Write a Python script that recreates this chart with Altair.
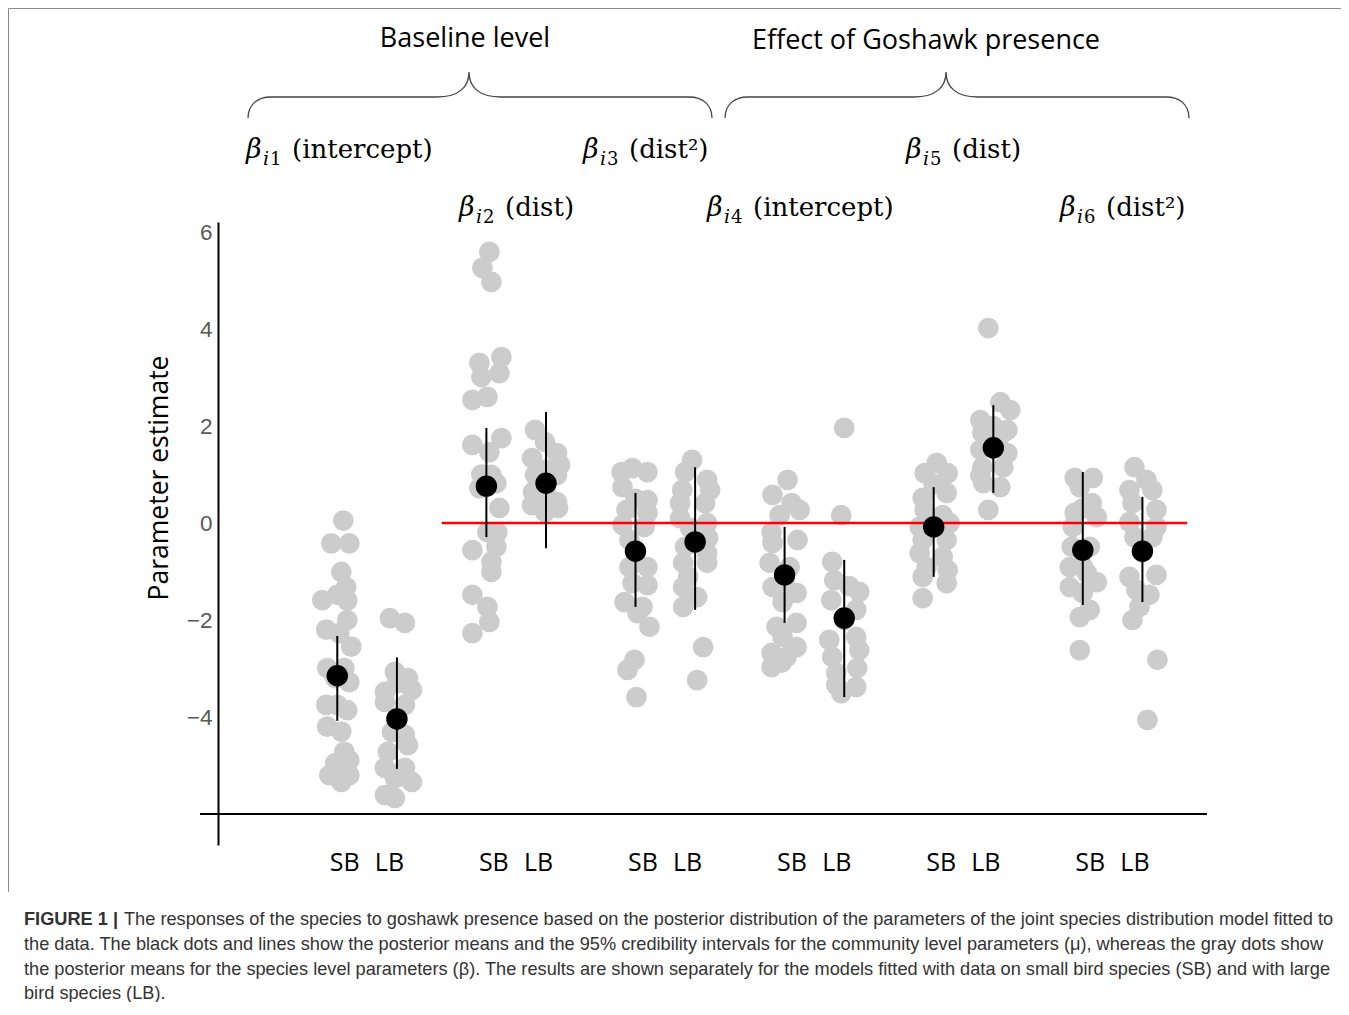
import altair as alt
import pandas as pd

# ---------------- data ----------------
param_ids = [1, 2, 3, 4, 5, 6]
group_names = ["SB", "LB"]
group_shift = [-0.2, 0.2]          # SB left, LB right within each parameter

# community level posterior means and 95% credibility intervals
sb_mean = [-3.15, 0.76, -0.58, -1.07, -0.08, -0.56]
sb_lo = [-4.08, -0.29, -1.73, -2.06, -1.11, -1.69]
sb_hi = [-2.33, 1.96, 0.62, -0.08, 0.74, 1.05]
lb_mean = [-4.04, 0.82, -0.39, -1.96, 1.55, -0.58]
lb_lo = [-5.07, -0.52, -1.79, -3.59, 0.62, -1.63]
lb_hi = [-2.77, 2.29, 1.15, -0.76, 2.43, 0.54]

# species level posterior means (gray dots): (value, horizontal jitter)
sb1 = [(0.05, 6), (-0.42, -6), (-0.42, 12), (-1.01, 4), (-1.32, 9), (-1.59, -15), (-1.48, 0),
       (-1.60, 10), (-2.00, 10), (-2.20, -11), (-2.27, 2), (-2.55, 14), (-2.99, -10), (-2.99, 7),
       (-3.28, 12), (-3.20, -2), (-3.75, -11), (-3.86, 10), (-3.75, 0), (-4.20, -10), (-4.30, 4),
       (-4.72, 7), (-4.89, 12), (-5.20, -8), (-5.34, 4), (-5.20, 12), (-4.95, -2)]
lb1 = [(-1.96, -7), (-2.06, 8), (-3.07, -2), (-3.20, 11), (-3.48, -12), (-3.44, 15), (-3.69, -12),
       (-3.75, 8), (-4.31, -5), (-4.37, 8), (-4.58, 11), (-4.72, -9), (-5.05, -12), (-5.05, 8),
       (-5.34, 15), (-5.61, -12), (-5.67, -2), (-5.26, -2), (-3.30, 0), (-4.00, 0)]
sb2 = [(5.59, 3), (5.26, -4), (4.97, 5), (3.30, -7), (3.42, 15), (3.09, 13), (3.01, -5), (2.54, -14),
       (2.60, 1), (1.61, -14), (1.75, 15), (1.46, 3), (0.99, 5), (0.72, -7), (0.82, 10), (0.31, 13),
       (-0.19, 1), (-0.19, 11), (-0.56, -14), (-0.49, 10), (-1.01, 5), (-1.48, -14), (-1.73, 1),
       (-2.04, 3), (-2.27, -14), (-0.80, 5), (1.00, -5)]
lb2 = [(1.92, -11), (1.67, -1), (1.44, 11), (1.34, -14), (1.20, 14), (0.99, -11), (0.99, 11),
       (0.64, -13), (0.43, 11), (0.37, -14), (0.23, -1), (0.31, 12), (1.10, 0), (0.60, 0)]
sb3 = [(1.05, -14), (1.13, -3), (1.05, 12), (0.74, -13), (0.47, 12), (0.27, -9), (0.21, 12),
       (-0.04, -13), (-0.08, 9), (-0.35, -6), (-0.91, -6), (-0.91, 12), (-1.24, -3), (-1.28, 12),
       (-1.63, -11), (-1.73, 7), (-1.86, 2), (-2.14, 14), (-2.82, -1), (-3.03, -8), (-3.59, 1),
       (0.50, 0), (-0.60, 0)]
lb3 = [(1.30, -3), (1.05, -10), (0.89, 12), (0.68, -13), (0.68, 15), (0.41, -15), (0.41, 10),
       (0.10, -15), (0.00, 12), (-0.10, -5), (-0.31, 13), (-0.49, -10), (-0.62, 12), (-0.82, -12),
       (-0.82, 12), (-1.11, -7), (-1.32, -12), (-1.53, 2), (-1.73, -12), (-2.56, 8), (-3.24, 2)]
sb4 = [(0.89, 3), (0.58, -12), (0.41, 7), (0.27, 15), (0.16, -5), (-0.19, -13), (-0.35, 13),
       (-0.41, -12), (-0.82, -15), (-0.91, 5), (-1.32, -12), (-1.44, 12), (-1.63, -2), (-2.14, -8),
       (-2.06, 12), (-2.35, -2), (-2.68, -13), (-2.56, 12), (-2.76, 2), (-2.97, -13), (-2.88, -3),
       (-1.20, 0)]
lb4 = [(1.96, 0), (0.16, -3), (-0.80, -12), (-1.18, -10), (-1.42, 15), (-1.59, -13), (-1.30, 5),
       (-1.79, 12), (-2.41, -15), (-2.35, 12), (-2.76, -12), (-2.62, 15), (-3.09, -8), (-2.99, 13),
       (-3.34, -8), (-3.38, 12), (-3.51, -3), (-2.00, 0)]
sb5 = [(1.24, 3), (1.03, -9), (1.03, 14), (0.52, -11), (0.62, 13), (0.27, -9), (0.16, 9),
       (-0.08, -14), (0.00, 16), (-0.35, -11), (-0.35, 13), (-0.62, -14), (-0.70, 9), (-0.91, -7),
       (-0.97, 14), (-1.11, -11), (-1.24, 13), (-1.55, -11), (0.80, 0)]
lb5 = [(4.02, -5), (2.49, 7), (2.33, 17), (2.12, -13), (1.92, 14), (1.86, -11), (1.80, 7),
       (1.51, -13), (1.44, 14), (1.15, -11), (1.15, 10), (0.82, -10), (0.74, 7), (0.98, -13),
       (0.27, -5), (2.00, 0)]
sb6 = [(0.93, -8), (0.93, 10), (0.74, -3), (0.41, 9), (0.21, -8), (0.12, 14), (-0.08, -10),
       (-0.49, -11), (-0.49, 7), (-0.91, -13), (-1.03, 4), (-1.22, 14), (-1.32, -13), (-1.44, 0),
       (-1.79, 7), (-1.94, -3), (-2.62, -3), (0.30, 0), (-0.90, 0)]
lb6 = [(1.15, -8), (0.89, 4), (0.68, -13), (0.68, 10), (0.41, -10), (0.27, 14), (0.02, -13),
       (-0.08, 14), (-0.29, -8), (-0.29, 10), (-1.11, -13), (-1.07, 14), (-1.38, -6), (-1.48, 7),
       (-1.73, -3), (-2.00, -10), (-2.82, 15), (-4.06, 5), (-0.60, 0)]

y_tick_values = [-4, -2, 0, 2, 4, 6]
header_texts = ["Baseline level", "Effect of Goshawk presence"]
beta_numbers = ["1", "2", "3", "4", "5", "6"]
beta_terms = ["(intercept)", "(dist)", "(dist\u00b2)", "(intercept)", "(dist)", "(dist\u00b2)"]
y_title = "Parameter estimate"
caption_bold = "FIGURE 1 |"
caption_lines = [
    "The responses of the species to goshawk presence based on the posterior distribution of the parameters of the joint species distribution model fitted to",
    "the data. The black dots and lines show the posterior means and the 95% credibility intervals for the community level parameters (\u03bc), whereas the gray dots show",
    "the posterior means for the species level parameters (\u03b2). The results are shown separately for the models fitted with data on small bird species (SB) and with large",
    "bird species (LB).",
]

# ---------------- layout ----------------
PLOT_LEFT, PLOT_TOP, PLOT_W, PLOT_H = 218, 222, 989, 623   # page pixels
PX_X = 149.1      # pixels per parameter step
ZERO_Y, PX_Y = 523, 48.5

def fx(px):
    return (px - PLOT_LEFT) / PX_X

def fy(py):
    return (ZERO_Y - py) / PX_Y

xs = alt.Scale(domain=[0, PLOT_W / PX_X], nice=False, zero=False)
ys = alt.Scale(domain=[fy(PLOT_TOP + PLOT_H), fy(PLOT_TOP)], nice=False, zero=False)
y_axis = alt.Axis(values=y_tick_values, ticks=False, grid=False, labelPadding=6, labelFontSize=22.5,
                  labelFont="Liberation Sans", labelColor="#595959", domainColor="#000000",
                  domainWidth=2, title=None)

def X(f="x"):
    return alt.X(f"{f}:Q", scale=xs, axis=None)

def Y(f="y"):
    return alt.Y(f"{f}:Q", scale=ys, axis=y_axis)

# ---------------- tables ----------------
gray_sets = [sb1, lb1, sb2, lb2, sb3, lb3, sb4, lb4, sb5, lb5, sb6, lb6]
gray_rows = []
for k, pts in enumerate(gray_sets):
    p = param_ids[k // 2]
    shift = group_shift[k % 2]
    for v, j in pts:
        gray_rows.append({"x": p + shift + j / PX_X, "y": v})
gray_df = pd.DataFrame(gray_rows)

mean_rows = []
for i, p in enumerate(param_ids):
    mean_rows.append({"x": p + group_shift[0], "y": sb_mean[i], "lo": sb_lo[i], "hi": sb_hi[i]})
    mean_rows.append({"x": p + group_shift[1], "y": lb_mean[i], "lo": lb_lo[i], "hi": lb_hi[i]})
mean_df = pd.DataFrame(mean_rows)

cat_rows = []
for p in param_ids:
    for g, s in zip(group_names, [-0.15, 0.15]):
        cat_rows.append({"x": p + s, "y": fy(871), "text": g})
cat_df = pd.DataFrame(cat_rows)

# ---------------- layers ----------------
gray = alt.Chart(gray_df).mark_circle(size=430, color="#CCCCCC", opacity=1).encode(x=X(), y=Y())

zero_line = alt.Chart(pd.DataFrame({"x": [1.5], "x2": [6.5], "y": [0]})).mark_rule(
    color="#FF0000", strokeWidth=2.5).encode(x=X(), x2="x2:Q", y=Y())

bars = alt.Chart(mean_df).mark_rule(color="black", strokeWidth=2).encode(
    x=X(), y=Y("lo"), y2="hi:Q")

means = alt.Chart(mean_df).mark_circle(size=460, color="black", opacity=1).encode(x=X(), y=Y())

x_axis_line = alt.Chart(pd.DataFrame({"x": [fx(200)], "x2": [fx(1207)], "y": [-6]})).mark_rule(
    color="black", strokeWidth=2).encode(x=X(), x2="x2:Q", y=Y())

cat_labels = alt.Chart(cat_df).mark_text(font="Open Sans", fontSize=25, color="black",
                                         baseline="alphabetic").encode(x=X(), y=Y(), text="text:N")

ytitle = alt.Chart(pd.DataFrame({"x": [fx(160)], "y": [fy(478)], "text": [y_title]})).mark_text(
    font="Open Sans", fontSize=26.5, angle=270, color="black").encode(x=X(), y=Y(), text="text:N")

headers = alt.Chart(pd.DataFrame({"x": [fx(465), fx(926)], "y": [fy(47), fy(49)],
                                  "text": header_texts})).mark_text(
    font="Open Sans", fontSize=27, color="black", baseline="alphabetic").encode(
    x=X(), y=Y(), text="text:N")

beta_left = [246, 459, 583, 707, 906, 1060]
beta_base = [158, 216, 158, 216, 158, 216]
beta_df = pd.DataFrame({"x": [fx(l) for l in beta_left], "y": [fy(b) for b in beta_base],
                        "text": ["\u03b2"] * 6})
sub_i_df = pd.DataFrame({"x": [fx(l + 17) for l in beta_left], "y": [fy(b + 7) for b in beta_base],
                         "text": ["i"] * 6})
sub_n_df = pd.DataFrame({"x": [fx(l + 24) for l in beta_left], "y": [fy(b + 7) for b in beta_base],
                         "text": beta_numbers})
term_df = pd.DataFrame({"x": [fx(l + 46) for l in beta_left], "y": [fy(b) for b in beta_base],
                        "text": beta_terms})
beta_sym = alt.Chart(beta_df).mark_text(font="DejaVu Serif", fontStyle="italic", fontSize=27,
                                        align="left", baseline="alphabetic", color="black").encode(
    x=X(), y=Y(), text="text:N")
beta_sub_i = alt.Chart(sub_i_df).mark_text(font="DejaVu Serif", fontStyle="italic", fontSize=19,
                                           align="left", baseline="alphabetic", color="black").encode(
    x=X(), y=Y(), text="text:N")
beta_sub_n = alt.Chart(sub_n_df).mark_text(font="DejaVu Serif", fontSize=18, align="left",
                                           baseline="alphabetic", color="black").encode(
    x=X(), y=Y(), text="text:N")
beta_term = alt.Chart(term_df).mark_text(font="DejaVu Serif", fontSize=26, align="left",
                                         baseline="alphabetic", color="black").encode(
    x=X(), y=Y(), text="text:N")

BRACE = ("M -2.21,0.46 C -2.21,0.33 -2.12,0.25 -1.98,0.25 L -0.32,0.25 "
         "C -0.10,0.25 0,0.15 0,0 C 0,0.15 0.10,0.25 0.32,0.25 L 2.20,0.25 "
         "C 2.34,0.25 2.43,0.33 2.43,0.46")
braces = alt.Chart(pd.DataFrame({"x": [fx(469), fx(946)], "y": [fy(72), fy(72)]})).mark_point(
    shape=BRACE, size=40000, filled=False, stroke="#444444", strokeWidth=1.3, opacity=1).encode(
    x=X(), y=Y())

cap_y = [925, 950, 975, 999]
cap_bold = alt.Chart(pd.DataFrame({"x": [fx(24)], "y": [fy(cap_y[0])], "text": [caption_bold]})).mark_text(
    font="Liberation Sans", fontSize=18.2, fontWeight="bold", align="left", baseline="alphabetic",
    color="#333333").encode(x=X(), y=Y(), text="text:N")
cap_text = alt.Chart(pd.DataFrame({"x": [fx(124), fx(24), fx(24), fx(24)],
                                   "y": [fy(v) for v in cap_y], "text": caption_lines})).mark_text(
    font="Liberation Sans", fontSize=18.2, align="left", baseline="alphabetic",
    color="#333333").encode(x=X(), y=Y(), text="text:N")

frame = alt.Chart(pd.DataFrame({"x": [fx(8.5), fx(8.5)], "x2": [fx(1341), fx(8.5)],
                                "y": [fy(8.5), fy(8.5)], "y2": [fy(8.5), fy(892)]})).mark_rule(
    color="#8a8a8a", strokeWidth=1).encode(x=X(), x2="x2:Q", y=Y(), y2="y2:Q")

chart = alt.layer(
    gray, zero_line, bars, means, x_axis_line, cat_labels, ytitle, headers,
    beta_sym, beta_sub_i, beta_sub_n, beta_term, braces, cap_bold, cap_text, frame,
).properties(
    width=PLOT_W, height=PLOT_H,
    autosize=alt.AutoSizeParams(type="none"),
    padding={"left": PLOT_LEFT - 8, "top": PLOT_TOP - 8, "right": 1333 - (PLOT_LEFT - 8) - PLOT_W,
             "bottom": 157},
    background="white",
).configure_view(stroke=None)

chart.save("out.html", embed_options={"renderer": "svg", "actions": False})
